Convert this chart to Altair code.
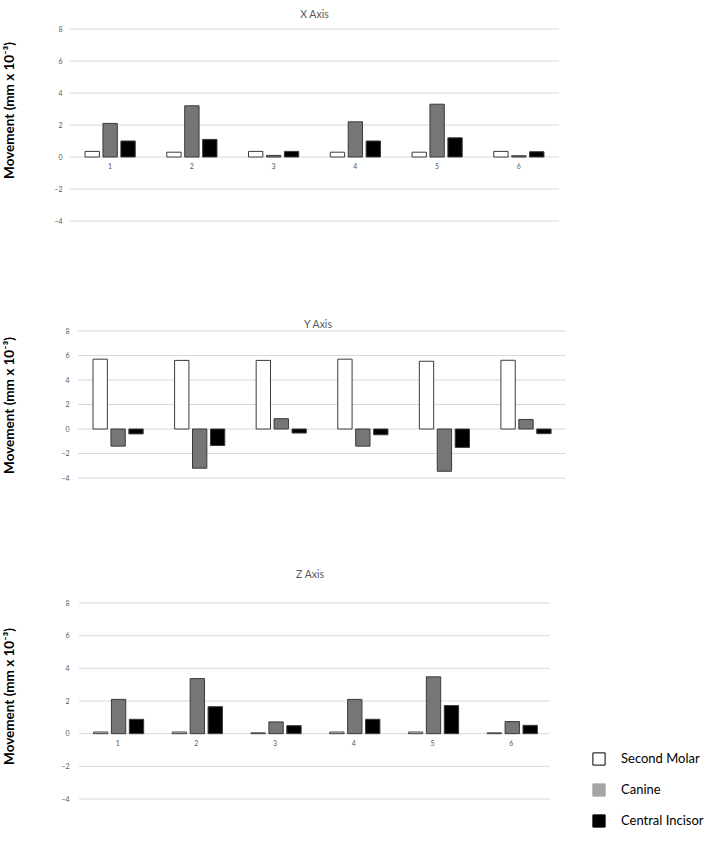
import altair as alt
import pandas as pd

# Groups along each panel and the three teeth tracked
categories = ["1", "2", "3", "4", "5", "6"]
series = ["Second Molar", "Canine", "Central Incisor"]

# Movement along the X axis (mm x 10^-3)
x_molar = [0.35, 0.30, 0.35, 0.30, 0.30, 0.35]
x_canine = [2.10, 3.20, 0.10, 2.20, 3.30, 0.08]
x_incisor = [1.00, 1.10, 0.35, 1.00, 1.20, 0.33]

# Movement along the Y axis
y_molar = [5.70, 5.60, 5.60, 5.70, 5.53, 5.61]
y_canine = [-1.40, -3.20, 0.84, -1.40, -3.45, 0.78]
y_incisor = [-0.40, -1.35, -0.33, -0.47, -1.50, -0.38]

# Movement along the Z axis
z_molar = [0.10, 0.10, 0.05, 0.10, 0.10, 0.05]
z_canine = [2.10, 3.37, 0.72, 2.10, 3.48, 0.74]
z_incisor = [0.88, 1.65, 0.49, 0.88, 1.72, 0.51]

tick_values = [-4, -2, 0, 2, 4, 6, 8]
FONT = "Lato"
bar_fill = ["#ffffff", "#767676", "#000000"]
legend_fill = ["#ffffff", "#a6a6a6", "#000000"]
legend_stroke = ["#000000", "#a6a6a6", "#000000"]


def frame(molar, canine, incisor):
    rows = []
    for name, vals in zip(series, [molar, canine, incisor]):
        for cat, v in zip(categories, vals):
            rows.append({"group": cat, "tooth": name, "value": v})
    return pd.DataFrame(rows)


def legend_spec():
    return alt.Legend(
        title=None, orient="none", legendX=522, legendY=723, padding=0,
        symbolType="square", symbolSize=150, symbolStrokeWidth=1,
        labelFont=FONT, labelFontSize=13, labelColor="#000000",
        rowPadding=13, labelOffset=15,
    )


def panel(df, title, width, height, inset, title_offset, label_pad,
          title_pad, title_y, show_groups, with_legend=False):
    # the plotting band starts `inset` px right of the panel's left edge
    x_enc = alt.X("group:N", sort=categories, axis=None,
                  scale=alt.Scale(range=[inset, width],
                                  paddingInner=0.386, paddingOuter=0.184))
    y_scale = alt.Scale(domain=[-4, 8], nice=False, zero=False)
    y_axis = alt.Axis(
        values=tick_values, title="Movement (mm x 10⁻³)",
        titleFont=FONT, titleFontSize=13.5, titleFontWeight="bold",
        titleColor="#000000", titlePadding=title_pad, titleY=title_y,
        labelFont=FONT, labelFontSize=7, labelColor="#595959",
        labelPadding=label_pad, domain=False, ticks=False, grid=False,
    )
    grid = alt.Chart(pd.DataFrame({"tick": tick_values})).mark_rule(
        color="#d9d9d9", strokeWidth=1
    ).encode(
        y=alt.Y("tick:Q", scale=y_scale, axis=y_axis),
        x=alt.value(inset), x2=alt.value(width),
    )
    bars = alt.Chart(df).mark_bar(stroke="#3a3a3a", strokeWidth=1).encode(
        x=x_enc,
        xOffset=alt.XOffset("tooth:N", sort=series,
                            scale=alt.Scale(paddingInner=0.2, paddingOuter=0)),
        y=alt.Y("value:Q", scale=y_scale, axis=y_axis),
        fill=alt.Fill("tooth:N", sort=series,
                      scale=alt.Scale(range=bar_fill), legend=None),
    )
    layers = [grid, bars]
    if show_groups:
        labels = alt.Chart(pd.DataFrame({"group": categories})).mark_text(
            dy=10, fontSize=7, color="#595959", font=FONT
        ).encode(x=x_enc, y=alt.YDatum(0, scale=y_scale, axis=y_axis),
                 text="group:N")
        layers.append(labels)
    if with_legend:
        key = alt.Chart(df).mark_square(opacity=1, strokeWidth=1).encode(
            color=alt.Color("tooth:N", sort=series,
                            scale=alt.Scale(domain=series, range=legend_fill),
                            legend=legend_spec()),
            stroke=alt.Stroke("tooth:N", sort=series,
                              scale=alt.Scale(domain=series,
                                              range=legend_stroke),
                              legend=legend_spec()),
        ).transform_filter("false")
        layers.append(key)
    return alt.layer(*layers).properties(
        width=width, height=height,
        title=alt.Title(title, offset=title_offset, fontSize=10.5,
                        font=FONT, color="#595959", fontWeight="normal"),
    )


p_x = panel(frame(x_molar, x_canine, x_incisor), "X Axis", 489, 192,
            0, 5, 8, 37, 81, True)
p_y = panel(frame(y_molar, y_canine, y_incisor), "Y Axis", 496, 147,
            8, -3, 1, 44, 74, False)
p_z = panel(frame(z_molar, z_canine, z_incisor), "Z Axis", 480, 196,
            9, 19, 1, 44, 93, True, with_legend=True)

chart = alt.vconcat(
    alt.vconcat(p_x, p_y, spacing=95), p_z, spacing=88
).properties(
    padding={"left": 2, "top": 9, "right": 2, "bottom": 5}
).configure_view(stroke=None)

chart.save("out.html", embed_options={"renderer": "svg", "actions": False})
